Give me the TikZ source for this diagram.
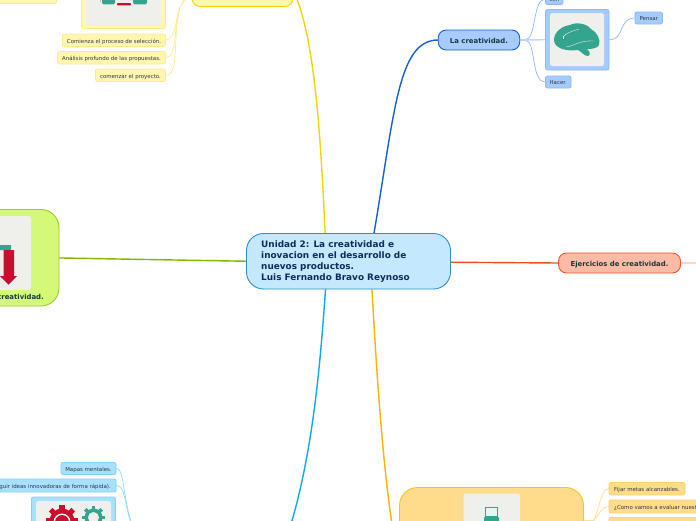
\documentclass[tikz,border=0pt]{standalone}
\usepackage{fontspec}
\setmainfont{DejaVu Sans}
\usetikzlibrary{backgrounds}
\definecolor{navy}{HTML}{0F2B5B}
\definecolor{darkgreen}{HTML}{123C3A}
\definecolor{smalltext}{HTML}{33363A}
\definecolor{teal}{HTML}{34A48E}
\definecolor{crimson}{HTML}{C8102E}
\definecolor{paper}{HTML}{EFF0EC}
\tikzset{
  dims/.style 2 args={minimum width=#1pt,minimum height=#2pt},
  box/.style={draw,anchor=north west,inner sep=0pt,outer sep=0pt,rounded corners=#1},
  box/.default=2pt,
  small/.style={text=smalltext,text height=5.5pt,text depth=0pt,font=\fontsize{5.45}{6}\selectfont},
  mid/.style={text=darkgreen,text height=6.5pt,text depth=0pt,font=\bfseries\fontsize{6.9}{7}\selectfont},
  bluesub/.style={box,fill={rgb,255:red,166;green,203;blue,255},draw={rgb,255:red,140;green,186;blue,250},line width=.8pt},
  yelsub/.style={box,fill={rgb,255:red,255;green,246;blue,176},draw={rgb,255:red,252;green,234;blue,140},line width=.8pt},
  cyansub/.style={box,fill={rgb,255:red,168;green,224;blue,255},draw={rgb,255:red,128;green,208;blue,250},line width=.8pt},
  orasub/.style={box,fill={rgb,255:red,255;green,220;blue,140},draw={rgb,255:red,255;green,206;blue,110},line width=.8pt},
  inner/.style={anchor=north west,fill=paper,inner sep=0pt,outer sep=0pt,rounded corners=2.5pt},
  wire/.style={line width=.7pt},
  main/.style={line width=1.4pt},
}
\newcommand{\gearshape}[5]{% x y radius teeth colour
  \fill[#5] (#1,#2) circle[radius=#3*0.78];
  \foreach \a in {0,...,#4}{
    \fill[#5,rotate around={360/#4*\a:(#1,#2)}] (#1-#3*0.16,#2-#3) rectangle (#1+#3*0.16,#2);
  }
}
\begin{document}
\begin{tikzpicture}[x=1pt,y=-1pt]
\useasboundingbox (0,0) rectangle (696,520);
\clip (0,0) rectangle (696,520);

% central topic
\node[box=17pt,dims={204}{55.5},fill={rgb,255:red,196;green,233;blue,255},draw={rgb,255:red,43;green,143;blue,208},line width=.9pt] (cen) at (246.5,233.5) {};
\node[anchor=north west,inner sep=0pt,align=left,text=navy,font=\bfseries\fontsize{8.9}{11}\selectfont] (centext) at (261,241) {Unidad 2: La creatividad e\\inovacion en el desarrollo de\\nuevos productos.\\Luis Fernando Bravo Reynoso};

% La creatividad branch
\node[box=8pt,dims={81.5}{20},fill={rgb,255:red,166;green,203;blue,255},draw={rgb,255:red,21;green,96;blue,208},line width=.9pt,mid] (crea) at (438.2,30) {La creatividad.};
\node[bluesub,dims={63.5}{60.5}] (brainbox) at (545.5,9.5) {};
\node[inner,dims={54}{53}] (brainpaper) at (550,13) {};
\node[bluesub,dims={27.5}{12},small] (pensar) at (635,12) {Pensar};
\node[bluesub,dims={25.5}{12},small] (hacer) at (545.5,76) {Hacer.};
\node[bluesub,dims={17.5}{11},small] (ver) at (545.5,-6.5) {Ver.};
% brain
\fill[teal] (554,40) .. controls (554,32) and (562,26) .. (570,25)
  .. controls (576,22) and (586,23) .. (591,29)
  .. controls (597,32) and (601,40) .. (599,45)
  .. controls (597,49) and (590,49) .. (587,49)
  .. controls (590,52) and (591,54) .. (588,56)
  .. controls (584,56) and (582,52) .. (578,50)
  .. controls (572,51) and (566,50) .. (562,49)
  .. controls (558,47) and (554,45) .. (554,40) -- cycle;
\draw[white,line width=.4pt,opacity=.85] (563,37) .. controls (566,33) and (570,32) .. (579,29);
\draw[white,line width=.4pt,opacity=.85] (566,47) .. controls (574,46) and (580,40) .. (594,41);
\draw[white,line width=.4pt,opacity=.85] (563,36) -- (563,39);

% Ejercicios
\node[box=8pt,dims={122}{20},fill={rgb,255:red,253;green,187;blue,165},draw={rgb,255:red,242;green,89;blue,42},line width=.9pt,mid] (ejer) at (558.5,253) {Ejercicios de creatividad.};
\coordinate (ejerout) at (696,263);

% green topic
\node[box=18pt,dims={140}{96.5},fill={rgb,255:red,212;green,249;blue,119},draw={rgb,255:red,156;green,203;blue,40},line width=.9pt] (green) at (-81,209.5) {};
\node[inner,dims={70}{74}] (greenpaper) at (-39,216) {};
\node[anchor=east,inner sep=0pt,text=darkgreen,font=\bfseries\fontsize{6.9}{7}\selectfont] (greentext) at (44,296.5) {creatividad.};
\fill[teal,rounded corners=.6pt] (-6,245) rectangle (11,250);
\fill[crimson] (3.5,250) -- (14,250) -- (14,276) -- (17,276) -- (8.5,284.5) -- (0,276) -- (3.5,276) -- cycle;

% yellow branch
\node[box=8pt,dims={101}{20},fill={rgb,255:red,255;green,246;blue,176},draw={rgb,255:red,242;green,218;blue,0},line width=.9pt] (yel) at (192,-13.5) {};
\node[yelsub,dims={84}{50}] (yelbox) at (81.5,-21.5) {};
\node[inner,dims={75}{43}] (yelpaper) at (86,-18) {};
\node[yelsub,dims={70}{12}] (ytop) at (-13.5,-8.5) {};
\fill[teal,rounded corners=1.5pt] (102,-4) rectangle (115,4.3);
\fill[teal,rounded corners=1.5pt] (133,-4) rectangle (147,4.3);
\fill[crimson,rounded corners=.8pt] (117,3) rectangle (131,5.3);
\fill[crimson!40] (99.5,-2) rectangle (101,1.5);
\node[yelsub,dims={103}{12.5},small] (y1) at (62.5,34) {Comienza el proceso de selección.};
\node[yelsub,dims={108}{12.5},small] (y2) at (57.5,51.5) {Análisis profundo de las propuestas.};
\node[yelsub,dims={70}{12.5},small] (y3) at (95.5,69) {comenzar el proyecto.};

% cyan branch
\node[cyansub,dims={55}{12},small] (c1) at (61,462.5) {Mapas mentales.};
\node[cyansub,dims={146}{13}] (c2) at (-30,479) {};
\node[anchor=east,inner sep=0pt,small] (c2text) at (111,485.5) {guir ideas innovadoras de forma rápida).};
\node[cyansub,dims={84}{60}] (cbox) at (31.5,497) {};
\node[inner,dims={75}{50}] (cpaper) at (36,501) {};
\gearshape{62}{521}{16}{8}{crimson}
\fill[white] (62,522) circle[radius=8.5];
\fill[crimson] (62,522) circle[radius=7];
\gearshape{93.5}{517.5}{11.5}{8}{teal}
\fill[paper] (93.5,517.5) circle[radius=5.5];
\coordinate (chub) at (131,522);

% orange branch
\node[box=18pt,dims={184}{70},fill={rgb,255:red,255;green,220;blue,140},draw={rgb,255:red,255;green,190;blue,46},line width=.9pt] (ora) at (399.5,487.5) {};
\node[inner,dims={56.5}{50}] (orapaper) at (463.5,493.5) {};
\draw[teal,fill=paper!60!teal!25,line width=.7pt] (485.5,507.5) rectangle (497.5,516);
\fill[teal,rounded corners=.8pt] (484,517) rectangle (499,524);
\node[orasub,dims={76}{12.5},small] (o1) at (609,482.5) {Fijar metas alcanzables.};
\node[orasub,dims={110}{13}] (o2) at (609,500) {};
\node[anchor=west,inner sep=0pt,small] (o2text) at (614,506.5) {¿Como vamos a evaluar nuest};
\node[orasub,dims={110}{13}] (o3) at (609,517.5) {};
\coordinate (ohub) at (593,521);

% connectors, behind the nodes
\begin{pgfonlayer}{background}
\definecolor{mainblue}{HTML}{1560D0}
\draw[main,mainblue] (cen.center) ++(25,-25) .. controls (395,110) and (398,40) .. (crea.west);
\draw[main,color={rgb,255:red,232;green,80;blue,30}] (cen.east) ++(0,1) -- (ejer.west);
\draw[wire,line width=1.2pt,color={rgb,255:red,251;green,213;blue,200}] (ejer.east) -- (ejerout);
\draw[main,color={rgb,255:red,127;green,184;blue,0}] (green.east) ++(0,0.2) -- (cen.west);
\draw[main,color={rgb,255:red,241;green,214;blue,0}] (cen.center) ++(-22,0) .. controls (322,170) and (318,50) .. (296,-3);
\draw[main,color={rgb,255:red,16;green,168;blue,240}] (cen.center) ++(-21,0) .. controls (322,340) and (316,440) .. (291,524);
\draw[main,color={rgb,255:red,255;green,179;blue,0}] (cen.center) ++(22,0) .. controls (375,350) and (382,460) .. (392,524);
% blue leaves
\begin{scope}[wire,color={rgb,255:red,140;green,186;blue,250}]
\draw (crea.east) -- ++(5,0) .. controls (537,40) and (532,-1) .. (ver.west);
\draw (crea.east) -- ++(5,0) .. controls (537,40) and (530,82) .. (hacer.west);
\draw[line width=1.4pt,color={rgb,255:red,190;green,215;blue,252}] (crea.east) -- (brainbox.west);
\draw (brainbox.east) .. controls (625,40) and (618,18) .. (pensar.west);
\end{scope}
% yellow leaves
\begin{scope}[wire,color={rgb,255:red,250;green,236;blue,140}]
\draw (y1.east) .. controls (178,40) and (174,8) .. (187,-3);
\draw (y2.east) .. controls (178,57) and (173,30) .. (179,10) .. controls (182,2) and (186,-2) .. (189,-3);
\draw (y3.east) .. controls (180,75) and (172,40) .. (180,8) .. controls (182,2) and (186,-2) .. (189,-3);
\end{scope}
% cyan leaves
\begin{scope}[wire,color={rgb,255:red,143;green,220;blue,255}]
\draw (c1.east) .. controls (124,468) and (122,490) .. (chub);
\draw (c2.east) .. controls (126,485) and (124,505) .. (chub);
\draw[line width=1.2pt] (cbox.east |- chub) -- (chub);
\end{scope}
% orange leaves
\begin{scope}[wire,color={rgb,255:red,255;green,222;blue,150}]
\draw (o1.west) .. controls (600,489) and (600,510) .. (ohub);
\draw (o2.west) .. controls (602,506) and (600,514) .. (ohub);
\draw (o3.west) .. controls (603,523) and (598,521) .. (ohub);
\draw[line width=1.2pt] (ora.east |- ohub) -- (ohub);
\end{scope}
\end{pgfonlayer}
\end{tikzpicture}
\end{document}
